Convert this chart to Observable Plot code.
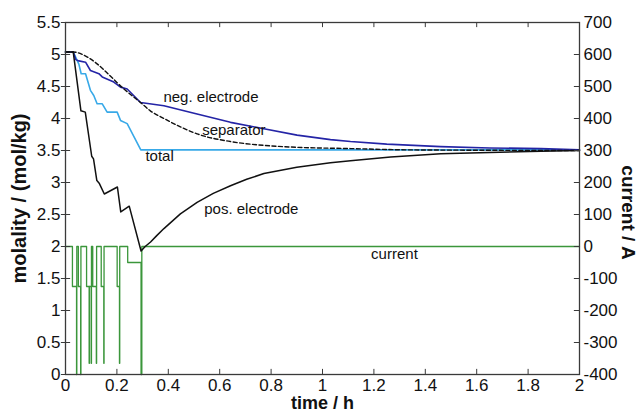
<!DOCTYPE html>
<html><head><meta charset="utf-8">
<script src="https://cdn.jsdelivr.net/npm/d3@7"></script>
<script src="https://cdn.jsdelivr.net/npm/@observablehq/plot@0.6"></script>
<style>
body{margin:0;background:#fff;}
</style>
</head><body><div id="chart"></div>
<script>
// time (h) and molality (mol/kg)
const posT = [0, 0.03, 0.06, 0.077, 0.102, 0.109, 0.122, 0.131, 0.151, 0.202, 0.215, 0.248, 0.294, 0.31, 0.331, 0.355, 0.383, 0.447, 0.512, 0.575, 0.642, 0.705, 0.772, 0.9, 1.031, 1.109, 1.265, 1.46, 1.65, 1.85, 2.0];
const posY = [5.04, 5.04, 4.12, 4.10, 3.41, 3.37, 3.03, 2.99, 2.82, 2.93, 2.54, 2.63, 1.93, 2.0, 2.07, 2.17, 2.28, 2.51, 2.69, 2.83, 2.95, 3.05, 3.14, 3.24, 3.31, 3.34, 3.40, 3.45, 3.47, 3.49, 3.50];

const negT = [0, 0.03, 0.04, 0.052, 0.078, 0.097, 0.13, 0.143, 0.188, 0.214, 0.24, 0.292, 0.383, 0.512, 0.642, 0.772, 0.901, 1.031, 1.109, 1.25, 1.46, 1.65, 1.85, 2.0];
const negY = [5.04, 5.04, 4.92, 4.9, 4.88, 4.75, 4.7, 4.65, 4.57, 4.49, 4.46, 4.25, 4.2, 4.07, 3.94, 3.84, 3.74, 3.67, 3.64, 3.6, 3.56, 3.54, 3.53, 3.51];

const sepT = [0, 0.03, 0.066, 0.118, 0.17, 0.222, 0.292, 0.33, 0.383, 0.447, 0.512, 0.642, 0.772, 0.9, 1.109, 1.33, 2.0];
const sepY = [5.04, 5.04, 5.0, 4.87, 4.68, 4.48, 4.25, 4.12, 4.0, 3.87, 3.76, 3.64, 3.58, 3.55, 3.53, 3.51, 3.5];

const totT = [0, 0.03, 0.052, 0.061, 0.078, 0.097, 0.11, 0.123, 0.143, 0.162, 0.201, 0.214, 0.24, 0.293, 2.0];
const totY = [5.04, 5.04, 4.85, 4.7, 4.7, 4.44, 4.36, 4.23, 4.23, 4.1, 4.1, 3.97, 3.92, 3.51, 3.51];

// current (A), step profile
const curT = [0, 0.027, 0.043, 0.044, 0.05, 0.059, 0.060, 0.082, 0.092, 0.093, 0.1, 0.101, 0.106, 0.12, 0.121, 0.139, 0.149, 0.150, 0.201, 0.21, 0.211, 0.242, 0.294, 0.297, 2.0];
const curI = [0, -125, -400, 0, -125, -400, 0, -125, -365, -125, -365, 0, -125, -365, 0, -125, -365, 0, -125, -365, 0, -50, -400, 0, 0];

// ticks
const xTicks = [0, 0.2, 0.4, 0.6, 0.8, 1, 1.2, 1.4, 1.6, 1.8, 2];
const xTickLabels = ["0", "0.2", "0.4", "0.6", "0.8", "1", "1.2", "1.4", "1.6", "1.8", "2"];
const yTicks = [0, 0.5, 1, 1.5, 2, 2.5, 3, 3.5, 4, 4.5, 5, 5.5];
const yTickLabels = ["0", "0.5", "1", "1.5", "2", "2.5", "3", "3.5", "4", "4.5", "5", "5.5"];
const curTicks = [-400, -300, -200, -100, 0, 100, 200, 300, 400, 500, 600, 700];

// curve labels (text, time, molality)
const labelText = ["neg. electrode", "separator", "total", "pos. electrode", "current"];
const labelT = [0.566, 0.655, 0.366, 0.723, 1.28];
const labelY = [4.33, 3.81, 3.41, 2.59, 1.875];

const table = (T, Y) => T.map((t, i) => ({t, y: Y[i]}));
const curToMolal = I => (I + 400) / 200; // right axis (-400..700 A) onto left (0..5.5)

const curData = curT.map((t, i) => ({t, I: curI[i]}));
const labels = labelText.map((s, i) => ({s, t: labelT[i], y: labelY[i]}));

const frameColor = "#3a3a3a";
const font = "'Liberation Sans', Arial, Helvetica, sans-serif";

const chart = Plot.plot({
  width: 640, height: 414,
  marginLeft: 65, marginRight: 61, marginTop: 22, marginBottom: 40,
  x: {domain: [0, 2], label: null},
  y: {domain: [0, 5.5], label: null},
  style: {fontFamily: font, fontSize: "17px", background: "white", color: "#111", overflow: "visible"},
  marks: [
    Plot.line(curData, {x: "t", y: d => curToMolal(d.I), curve: "step-after", stroke: "#3b963b", strokeWidth: 1.3}),
    Plot.line(table(totT, totY), {x: "t", y: "y", stroke: "#38a9e8", strokeWidth: 1.6}),
    Plot.line(table(negT, negY), {x: "t", y: "y", stroke: "#2424a6", strokeWidth: 1.6}),
    Plot.line(table(sepT, sepY), {x: "t", y: "y", curve: "monotone-x", stroke: "#111", strokeWidth: 1.4, strokeDasharray: "4,2.5"}),
    Plot.line(table(posT, posY), {x: "t", y: "y", stroke: "#111", strokeWidth: 1.5}),
    Plot.text(labels, {x: "t", y: "y", text: "s", fontSize: 15, fill: "#111"}),
    Plot.frame({stroke: frameColor, strokeWidth: 1.3}),
    // inward ticks
    Plot.ruleX(xTicks, {x: d => d, y1: 0, y2: 0.08, stroke: frameColor}),
    Plot.ruleX(xTicks, {x: d => d, y1: 5.5, y2: 5.42, stroke: frameColor}),
    Plot.ruleY(yTicks, {y: d => d, x1: -0.016, x2: 0.02, stroke: frameColor}),
    Plot.ruleY(curTicks, {y: d => curToMolal(d), x1: 2, x2: 1.98, stroke: frameColor}),
    // tick labels
    Plot.axisX(xTicks, {tickSize: 0, tickPadding: 4, tickFormat: d => xTickLabels[xTicks.indexOf(d)], label: null}),
    Plot.axisY(yTicks, {anchor: "left", tickSize: 0, tickPadding: 5, tickFormat: d => yTickLabels[yTicks.indexOf(d)], label: null}),
    Plot.axisY(curTicks.map(curToMolal), {anchor: "right", tickSize: 0, tickPadding: 4, tickFormat: d => String(curTicks[curTicks.map(curToMolal).indexOf(d)]), label: null}),
    // axis titles
    Plot.text(["time / h"], {frameAnchor: "bottom", dy: 29, textAnchor: "middle", lineAnchor: "middle", text: d => d, fontWeight: "bold", fontSize: 18, fill: "#111"}),
    Plot.text(["molality / (mol/kg)"], {frameAnchor: "left", dx: -46, textAnchor: "middle", rotate: -90, text: d => d, fontWeight: "bold", fontSize: 20, fill: "#111"}),
    Plot.text(["current / A"], {frameAnchor: "right", dx: 49, dy: 14, textAnchor: "middle", rotate: 90, text: d => d, fontWeight: "bold", fontSize: 19, fill: "#111"})
  ]
});
document.getElementById("chart").appendChild(chart);
</script>
</body></html>
